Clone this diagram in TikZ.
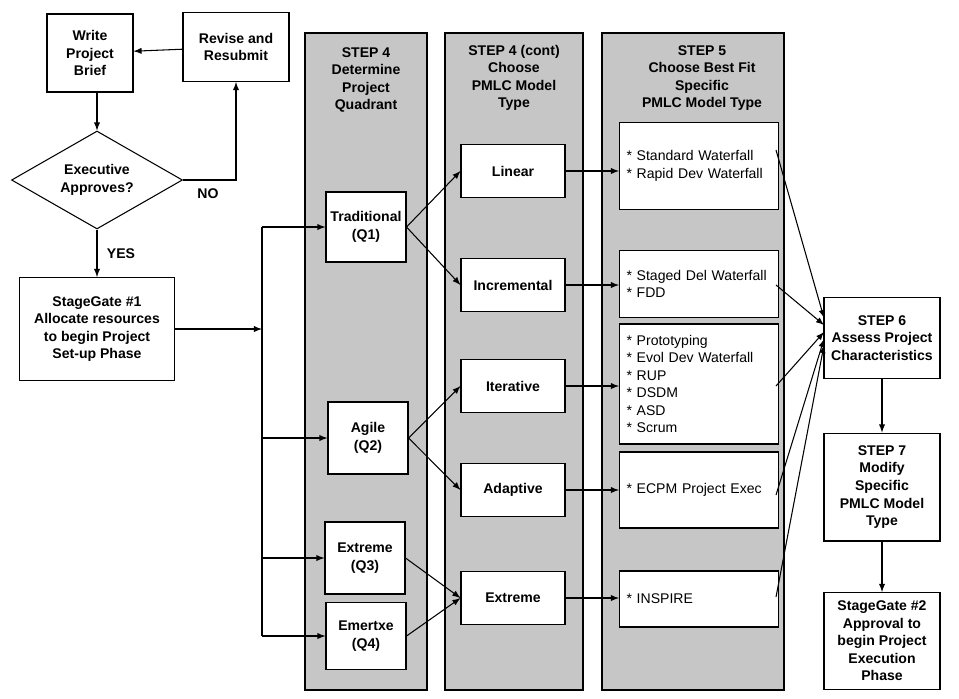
\documentclass[tikz,border=0pt]{standalone}
\usepackage{fontspec}
\setmainfont{Liberation Sans}
\usetikzlibrary{shapes,arrows,positioning,calc}
\begin{document}
\begin{tikzpicture}[x=0.02cm,y=-0.02cm,>=latex,line width=0.6pt,
   font=\fontsize{8}{10}\selectfont\bfseries]
\tikzstyle{blk} = [draw, fill=white, align=center, inner sep=1pt]
\tikzstyle{lst} = [draw, fill=white, align=left, font=\fontsize{8}{10}\selectfont, inner sep=4pt, anchor=west, minimum width=3.14cm, text width=2.9cm]
\tikzstyle{col} = [draw, fill=gray!45]
\useasboundingbox (0,0) rectangle (959,698);

% columns
\draw[col] (305,33) rectangle (427,690);
\draw[col] (445,33) rectangle (583,690);
\draw[col] (602,33) rectangle (784,690);
\node[align=center] (h1) at (366,80) {STEP 4\\Determine\\Project\\Quadrant};
\node[align=center] (h2) at (514,78) {STEP 4 (cont)\\Choose\\PMLC Model\\Type};
\node[align=center] (h3) at (702,78) {STEP 5\\Choose Best Fit\\Specific\\PMLC Model Type};

% left part
\node[blk, minimum width=1.72cm, minimum height=1.56cm] (brief) at (90,53) {Write\\Project\\Brief};
\node[blk, minimum width=2.12cm, minimum height=1.38cm] (revise) at (236,47) {Revise and\\Resubmit};
\node[draw, diamond, aspect=1.75, align=center, inner sep=0pt, minimum width=3.42cm, minimum height=1.96cm] (exec) at (97,180) {Executive\\Approves?};
\node[blk, minimum width=3.1cm, minimum height=2.06cm] (sg1) at (97,329) {StageGate \#1\\Allocate resources\\to begin Project\\Set-up Phase};
\coordinate (split) at (262,329);

\draw[->] (exec.north |- brief.south) -- (exec.north);
\draw[->] (revise) -- (brief);
\draw[->] (exec.east) -- (236,180) -- (revise);
\node (no) at (208,194) {NO};
\draw[->] (exec) -- node[right=2pt] {YES} (sg1);
\draw[->] (sg1) -- (split);

% quadrants
\node[blk, minimum width=1.6cm, minimum height=1.4cm] (q1) at (366,227) {Traditional\\(Q1)};
\node[blk, minimum width=1.6cm, minimum height=1.44cm] (q2) at (368,438) {Agile\\(Q2)};
\node[blk, minimum width=1.6cm, minimum height=1.44cm] (q3) at (365,558) {Extreme\\(Q3)};
\node[blk, minimum width=1.6cm, minimum height=1.34cm] (q4) at (366,636) {Emertxe\\(Q4)};
\draw (split |- q1) -- (split |- q4);
\foreach \q in {q1,q2,q3,q4}
    \draw[->] (split |- \q) -- (\q);

% model types
\foreach \n/\t/\y in {lin/Linear/171,inc/Incremental/285,itr/Iterative/386,ada/Adaptive/490,ext/Extreme/598}
    \node[blk, minimum width=2.08cm, minimum height=1.06cm] (\n) at (513,\y) {\t};
\draw[->] (q1.east) -- (lin.west);
\draw[->] (q1.east) -- (inc.west);
\draw[->] (q2.east) -- (itr.west);
\draw[->] (q2.east) -- (ada.west);
\draw[->] (q3.east) -- (ext.west);
\draw[->] (q4.east) -- (ext.west);

% specific models
\node[lst, minimum height=1.74cm] (s1) at (619,166) {* Standard Waterfall\\{}* Rapid Dev Waterfall};
\node[lst, minimum height=1.34cm] (s2) at (619,284) {* Staged Del Waterfall\\{}* FDD};
\node[lst, minimum height=2.4cm] (s3) at (619,384) {* Prototyping\\{}* Evol Dev Waterfall\\{}* RUP\\{}* DSDM\\{}* ASD\\{}* Scrum};
\node[lst, minimum height=1.52cm] (s4) at (619,490) {* ECPM Project Exec};
\node[lst, minimum height=1.12cm] (s5) at (619,599) {* INSPIRE};
\draw[->] (lin) -- (lin -| s1.west);
\draw[->] (inc) -- (inc -| s2.west);
\draw[->] (itr) -- (itr -| s3.west);
\draw[->] (ada) -- (ada -| s4.west);
\draw[->] (ext) -- (ext -| s5.west);

% steps 6 and 7
\node[blk, minimum width=2.32cm, minimum height=1.62cm] (st6) at (882,338) {STEP 6\\Assess Project\\Characteristics};
\node[blk, minimum width=2.32cm, minimum height=2.16cm] (st7) at (882,487) {STEP 7\\Modify\\Specific\\PMLC Model\\Type};
\node[blk, minimum width=2.32cm, minimum height=1.94cm] (sg2) at (882,641) {StageGate \#2\\Approval to\\begin Project\\Execution\\Phase};
\draw[->] (776,150) -- (824,318);
\draw[->] (776,285) -- (824,325);
\draw[->] (776,386) -- (824,332);
\draw[->] (776,495) -- (824,339);
\draw[->] (776,597) -- (824,345);
\draw[->] (st6) -- (st7);
\draw[->] (st7) -- (sg2);
\end{tikzpicture}
\end{document}
